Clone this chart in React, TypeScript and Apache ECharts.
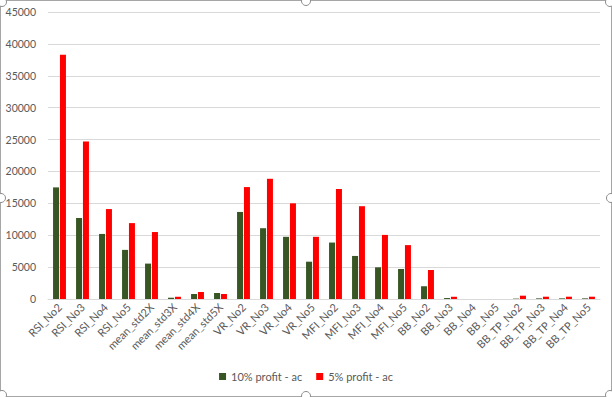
import React, { useEffect, useRef } from "react";
import * as echarts from "echarts";

const categories = [
  "RSI_No2", "RSI_No3", "RSI_No4", "RSI_No5",
  "mean_std2X", "mean_std3X", "mean_std4X", "mean_std5X",
  "VR_No2", "VR_No3", "VR_No4", "VR_No5",
  "MFI_No2", "MFI_No3", "MFI_No4", "MFI_No5",
  "BB_No2", "BB_No3", "BB_No4", "BB_No5",
  "BB_TP_No2", "BB_TP_No3", "BB_TP_No4", "BB_TP_No5",
];

const profit10 = [
  17500, 12700, 10200, 7700,
  5550, 200, 780, 940,
  13650, 11100, 9750, 5850,
  8850, 6750, 4970, 4700,
  2000, 150, 0, 0,
  60, 100, 100, 100,
];

const profit5 = [
  38300, 24700, 14100, 11900,
  10500, 350, 1100, 780,
  17550, 18850, 15000, 9750,
  17250, 14550, 10050, 8450,
  4550, 350, 0, 0,
  520, 360, 360, 360,
];

const seriesNames = ["10% profit - ac", "5% profit - ac"];
const yTicks = { min: 0, max: 45000, interval: 5000 };

export default function App() {
  const ref = useRef<HTMLDivElement>(null);
  useEffect(() => {
    if (!ref.current) return;
    const chart = echarts.init(ref.current, null, { renderer: "svg" });
    const font = "Lato, 'Open Sans', sans-serif";
    const handle = (x: number, y: number) => ({
      type: "circle",
      shape: { cx: x, cy: y, r: 4.5 },
      style: { fill: "#ffffff", stroke: "#8c8c8c", lineWidth: 1 },
      z: 100,
    });
    chart.setOption({
      animation: false,
      backgroundColor: "#ffffff",
      textStyle: { fontFamily: font },
      grid: { left: 48, right: 12, top: 12, bottom: 98, containLabel: false },
      legend: {
        bottom: 10,
        left: "center",
        itemWidth: 7,
        itemHeight: 7,
        itemGap: 14,
        icon: "rect",
        textStyle: { color: "#595959", fontSize: 11, fontFamily: font },
        data: seriesNames,
      },
      xAxis: {
        type: "category",
        data: categories,
        axisLine: { lineStyle: { color: "#d9d9d9" } },
        axisTick: { show: false },
        axisLabel: {
          rotate: 45,
          color: "#595959",
          fontSize: 11,
          fontFamily: font,
          interval: 0,
          margin: 6,
        },
      },
      yAxis: {
        type: "value",
        min: yTicks.min,
        max: yTicks.max,
        interval: yTicks.interval,
        axisLine: { show: false },
        axisTick: { show: false },
        axisLabel: {
          color: "#595959",
          fontSize: 10.5,
          fontFamily: font,
          margin: 12,
          formatter: (v: number) => String(v),
        },
        splitLine: { lineStyle: { color: "#d9d9d9" } },
      },
      series: [
        {
          name: seriesNames[0],
          type: "bar",
          data: profit10,
          barWidth: 6,
          barGap: "15%",
          itemStyle: { color: "#375623" },
        },
        {
          name: seriesNames[1],
          type: "bar",
          data: profit5,
          barWidth: 6,
          itemStyle: { color: "#ff0000" },
        },
      ],
      graphic: [
        {
          type: "rect",
          shape: { x: 0.5, y: 0.5, width: 611, height: 396 },
          style: { fill: "none", stroke: "#a6a6a6", lineWidth: 1 },
          z: 90,
        },
        handle(2, 2),
        handle(306, 1),
        handle(610, 2),
        handle(1, 198),
        handle(611, 198),
        handle(2, 395),
        handle(306, 396),
        handle(610, 395),
      ],
    });
    return () => chart.dispose();
  }, []);
  return (
    <div
      ref={ref}
      style={{ position: "fixed", left: 0, top: 0, width: 612, height: 397 }}
    />
  );
}
